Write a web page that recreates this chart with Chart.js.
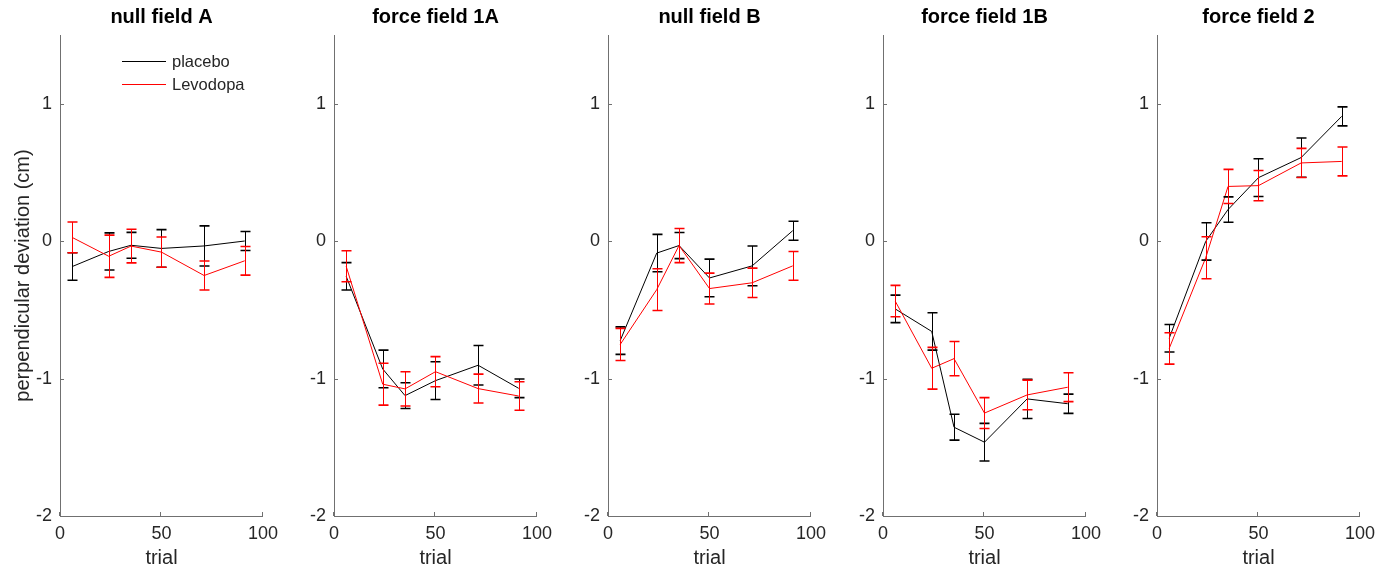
<!DOCTYPE html>
<html>
<head>
<meta charset="utf-8">
<title>perpendicular deviation</title>
<script src="https://cdn.jsdelivr.net/npm/chart.js@4/dist/chart.umd.min.js"></script>
<style>
  body { margin: 0; background: #fff; }
  #wrap { position: relative; width: 1390px; height: 573px; overflow: hidden; }
  canvas { position: absolute; top: 0; }
</style>
</head>
<body>
<div id="wrap"></div>
<script>
// trial bins (x positions of the means)
const trials = [6, 24, 35, 50, 71, 91];
const panelTitles = ["null field A", "force field 1A", "null field B", "force field 1B", "force field 2"];
const seriesNames = ["placebo", "Levodopa"];

// one row per panel
const placeboMean = [
  [-0.185, -0.075, -0.030, -0.053, -0.035, 0.001],
  [-0.256, -0.930, -1.124, -1.015, -0.903, -1.071],
  [-0.724, -0.087, -0.032, -0.268, -0.180, 0.076],
  [-0.493, -0.657, -1.354, -1.463, -1.148, -1.183],
  [-0.707, -0.002, 0.230, 0.462, 0.608, 0.908]
];
const placeboErr = [
  [0.100, 0.135, 0.094, 0.137, 0.146, 0.069],
  [0.100, 0.137, 0.094, 0.137, 0.144, 0.068],
  [0.100, 0.136, 0.095, 0.137, 0.145, 0.069],
  [0.100, 0.136, 0.094, 0.137, 0.142, 0.070],
  [0.100, 0.136, 0.092, 0.137, 0.143, 0.069]
];
const levodopaMean = [
  [0.027, -0.110, -0.036, -0.080, -0.250, -0.143],
  [-0.183, -1.041, -1.075, -0.950, -1.073, -1.127],
  [-0.752, -0.353, -0.032, -0.345, -0.303, -0.180],
  [-0.436, -0.925, -0.855, -1.251, -1.119, -1.063],
  [-0.781, -0.121, 0.398, 0.404, 0.569, 0.580]
];
const levodopaErr = [
  [0.112, 0.154, 0.122, 0.110, 0.105, 0.104],
  [0.113, 0.152, 0.125, 0.110, 0.105, 0.104],
  [0.117, 0.152, 0.124, 0.112, 0.107, 0.105],
  [0.114, 0.152, 0.125, 0.112, 0.108, 0.105],
  [0.114, 0.153, 0.124, 0.110, 0.106, 0.105]
];

const canvasLeft = [0, 274, 548, 823, 1097];
const textColor = "#262626";
const axisColor = "#707070";

Chart.defaults.font.family = "'Liberation Sans', Arial, sans-serif";

// vertical error bars with caps, drawn through the y scale
const errorBars = {
  id: "errorBars",
  afterDatasetsDraw(chart) {
    const ctx = chart.ctx;
    const ys = chart.scales.y;
    chart.data.datasets.forEach((ds, i) => {
      const meta = chart.getDatasetMeta(i);
      ctx.save();
      ctx.strokeStyle = ds.borderColor;
      meta.data.forEach((pt, j) => {
        const v = ds.data[j].y;
        const top = ys.getPixelForValue(v + ds.err[j]);
        const bot = ys.getPixelForValue(v - ds.err[j]);
        const x = Math.round(pt.x) + 0.5;
        ctx.lineWidth = 1;
        ctx.beginPath();
        ctx.moveTo(x, top);
        ctx.lineTo(x, bot);
        ctx.stroke();
        ctx.lineWidth = 1.6;
        ctx.beginPath();
        ctx.moveTo(x - 5, top); ctx.lineTo(x + 5, top);
        ctx.moveTo(x - 5, bot); ctx.lineTo(x + 5, bot);
        ctx.stroke();
      });
      ctx.restore();
    });
  }
};

// matlab style inward tick marks
const innerTicks = {
  id: "innerTicks",
  afterDraw(chart) {
    const ctx = chart.ctx;
    const xs = chart.scales.x, ys = chart.scales.y;
    const area = chart.chartArea;
    ctx.save();
    ctx.strokeStyle = axisColor;
    ctx.lineWidth = 1;
    ctx.beginPath();
    xs.ticks.forEach(t => {
      const px = Math.round(xs.getPixelForValue(t.value)) - 0.5;
      ctx.moveTo(px, area.bottom);
      ctx.lineTo(px, area.bottom - 4);
    });
    ys.ticks.forEach(t => {
      const py = Math.round(ys.getPixelForValue(t.value)) + 0.5;
      ctx.moveTo(area.left, py);
      ctx.lineTo(area.left + 4, py);
    });
    ctx.stroke();
    ctx.restore();
  }
};

// legend box in the first panel
const seriesLegend = {
  id: "seriesLegend",
  afterDraw(chart) {
    if (!chart.options.showSeriesLegend) return;
    const ctx = chart.ctx;
    ctx.save();
    ctx.font = "16.5px 'Liberation Sans', Arial, sans-serif";
    ctx.textBaseline = "middle";
    chart.data.datasets.forEach((ds, i) => {
      const y = 61 + i * 23;
      ctx.strokeStyle = ds.borderColor;
      ctx.lineWidth = 1;
      ctx.beginPath();
      ctx.moveTo(122, y + 0.5);
      ctx.lineTo(166, y + 0.5);
      ctx.stroke();
      ctx.fillStyle = textColor;
      ctx.fillText(ds.label, 172, y + 1);
    });
    ctx.restore();
  }
};

const wrap = document.getElementById("wrap");

panelTitles.forEach((title, p) => {
  const cv = document.createElement("canvas");
  cv.width = 285;
  cv.height = 573;
  cv.style.left = canvasLeft[p] + "px";
  wrap.appendChild(cv);

  const placebo = trials.map((t, j) => ({ x: t, y: placeboMean[p][j] }));
  const levodopa = trials.map((t, j) => ({ x: t, y: levodopaMean[p][j] }));

  new Chart(cv.getContext("2d"), {
    type: "line",
    data: {
      datasets: [
        {
          label: seriesNames[0],
          data: placebo,
          err: placeboErr[p],
          borderColor: "#000000",
          borderWidth: 1,
          pointRadius: 0,
          tension: 0,
          fill: false,
          order: 1
        },
        {
          label: seriesNames[1],
          data: levodopa,
          err: levodopaErr[p],
          borderColor: "#ff0000",
          borderWidth: 1,
          pointRadius: 0,
          tension: 0,
          fill: false,
          order: 0
        }
      ]
    },
    options: {
      responsive: false,
      animation: false,
      showSeriesLegend: p === 0,
      layout: { padding: { top: 0, right: 21, bottom: 0, left: 0 } },
      plugins: {
        legend: { display: false },
        tooltip: { enabled: false },
        title: {
          display: true,
          text: title,
          fullSize: false,
          color: "#000",
          font: { size: 20, weight: "bold" },
          padding: { top: 5, bottom: 6 }
        }
      },
      scales: {
        x: {
          type: "linear",
          min: 0,
          max: 100,
          grid: { display: false, drawTicks: false },
          border: { display: true, color: axisColor, width: 1 },
          ticks: { stepSize: 50, includeBounds: false, color: textColor, font: { size: 18 }, padding: 7, maxRotation: 0 },
          title: { display: true, text: "trial", color: textColor, font: { size: 20 }, padding: { top: 0, bottom: 3 } },
          afterFit(s) { s.height = 57; }
        },
        y: {
          min: -2,
          max: 1.5,
          grid: { display: false, drawTicks: false },
          border: { display: true, color: axisColor, width: 1 },
          ticks: { stepSize: 1, includeBounds: false, color: textColor, font: { size: 18 }, padding: 8 },
          title: {
            display: p === 0,
            text: "perpendicular deviation (cm)",
            color: textColor,
            font: { size: 20 },
            padding: { top: 11, bottom: 0 }
          },
          afterFit(s) { s.width = 60; }
        }
      }
    },
    plugins: [errorBars, innerTicks, seriesLegend]
  });
});
</script>
</body>
</html>
